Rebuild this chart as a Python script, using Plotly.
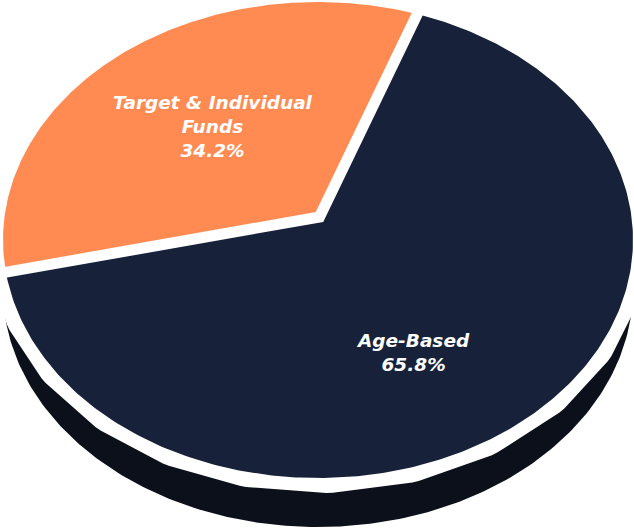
import numpy as np
import plotly.graph_objects as go

# ---- data ----
labels = ["Age-Based", "Target & Individual Funds"]
label_text = ["Age-Based", "Target & Individual<br>Funds"]
values = [65.8, 34.2]

# ---- style ----
colors = ["#17223A", "#FF8B53"]
side_color = "#0B101A"
W, H = 634, 528
CX, CY = 318, 240          # ellipse centre (px)
RX, RY = 315, 238          # ellipse radii (px)
APEX_DX, APEX_DY = 1.5, -23  # apex offset from centre (perspective)
DEPTH = 49                 # thickness of the side wall
GAP = 15                   # white gap between top and side
SEP = 11                   # white separator width
START = 70.0               # start angle (deg), slices go clockwise
label_shift = [-14.0, 0.0]  # label angle tweak per slice
label_r = [0.64, 0.51]      # label radius fraction

ax_n = APEX_DX / RX
ay_n = -APEX_DY / RY
apex = (CX + APEX_DX, CY + APEX_DY)


def ray_point(phi_deg, scale=1.0):
    phi = np.radians(phi_deg)
    dx, dy = np.cos(phi), np.sin(phi)
    b = ax_n * dx + ay_n * dy
    c = ax_n ** 2 + ay_n ** 2 - 1
    t = (-b + np.sqrt(b * b - c)) * scale
    px = ax_n + t * dx
    py = ay_n + t * dy
    return CX + RX * px, CY - RY * py


fig = go.Figure()

# side wall (shifted lower half ellipse)
th = np.radians(np.linspace(180, 360, 200))
sx = CX + RX * np.cos(th)
sy = CY + DEPTH - RY * np.sin(th)
fig.add_trace(go.Scatter(x=np.r_[sx, sx[0]], y=np.r_[sy, sy[0]], mode="lines",
                         fill="toself", fillcolor=side_color,
                         line=dict(width=0, color=side_color), hoverinfo="skip"))

# white halo around the top surface
th = np.radians(np.linspace(0, 360, 400))
fig.add_trace(go.Scatter(x=CX + RX * np.cos(th), y=CY - RY * np.sin(th), mode="lines",
                         fill="toself", fillcolor="white",
                         line=dict(width=2 * GAP, color="white"), hoverinfo="skip"))

total = sum(values)
bounds = []
ang = START
annotations = []
for i, v in enumerate(values):
    sweep = 360.0 * v / total
    phis = np.linspace(ang, ang - sweep, 300)
    pts = [ray_point(p) for p in phis]
    xs = [apex[0]] + [p[0] for p in pts] + [apex[0]]
    ys = [apex[1]] + [p[1] for p in pts] + [apex[1]]
    fig.add_trace(go.Scatter(x=xs, y=ys, mode="lines", fill="toself",
                             fillcolor=colors[i], line=dict(width=0, color=colors[i]),
                             name=labels[i], hoverinfo="name"))
    mid = ang - sweep / 2 + label_shift[i]
    rad = np.radians(mid)
    lx = apex[0] + label_r[i] * RX * np.cos(rad)
    ly = apex[1] - label_r[i] * RY * np.sin(rad)
    annotations.append(dict(
        x=lx, y=ly, xref="x", yref="y", showarrow=False,
        text=f"{label_text[i]}<br>{v:.1f}%", align="center",
        font=dict(family="DejaVu Sans", size=18.5, color="white",
                  weight="bold", style="italic"),
        xanchor="center", yanchor="middle"))
    bounds.append(ang)
    ang -= sweep

# white separators, drawn as one polyline so the apex gets a mitred join
e1 = ray_point(bounds[0], 1.08)
e2 = ray_point(bounds[1], 1.08)
fig.add_trace(go.Scatter(x=[e1[0], apex[0], e2[0]], y=[e1[1], apex[1], e2[1]],
                         mode="lines", line=dict(width=SEP, color="white"),
                         hoverinfo="skip"))

fig.update_layout(
    width=W, height=H, margin=dict(l=0, r=0, t=0, b=0),
    paper_bgcolor="white", plot_bgcolor="white", showlegend=False,
    xaxis=dict(range=[0, W], visible=False, fixedrange=True),
    yaxis=dict(range=[H, 0], visible=False, fixedrange=True),
    annotations=annotations,
)

fig.write_html("out.html", config={"displayModeBar": False},
               post_script="document.body.style.margin='0';document.body.style.overflow='hidden';")
